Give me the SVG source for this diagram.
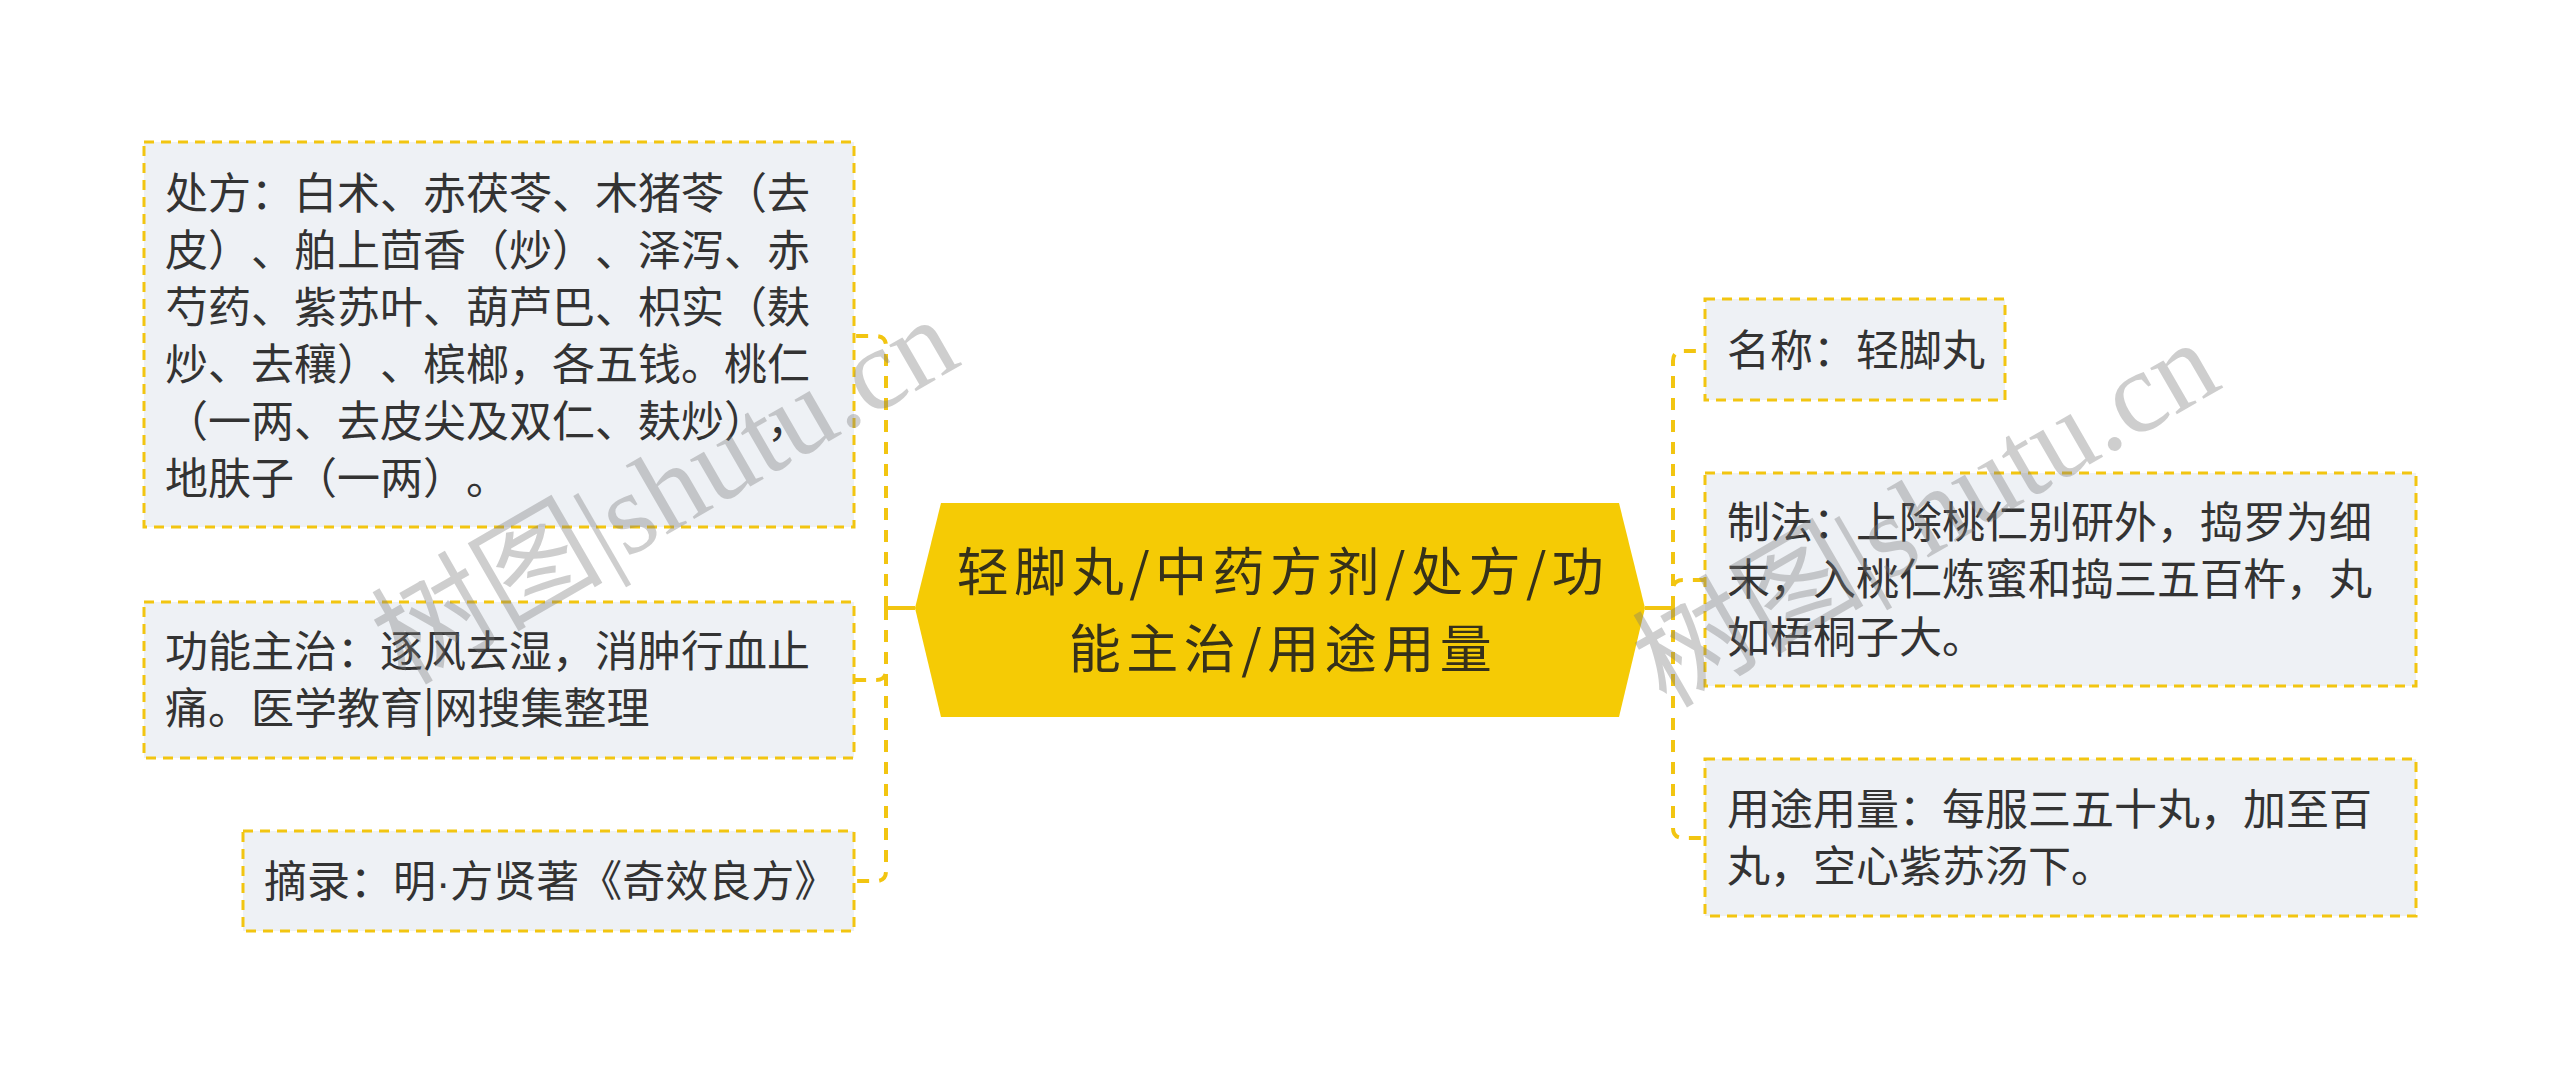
<svg xmlns="http://www.w3.org/2000/svg" width="2560" height="1075" viewBox="0 0 2560 1075">
<style>
.box{fill:#eef1f5;stroke:#f2c511;stroke-width:3;stroke-dasharray:10 7;}
.t{font-family:"Noto Sans CJK SC","Noto Sans",sans-serif;font-size:43px;fill:#333333;text-spacing-trim:space-all;font-kerning:none;}
.ct{font-family:"Noto Sans CJK SC","Noto Sans",sans-serif;font-size:52px;letter-spacing:5.5px;fill:#36311a;text-anchor:middle;text-spacing-trim:space-all;}
.nd{font-family:"Liberation Sans",sans-serif;}
.con{fill:none;stroke:#f2c511;stroke-width:4;stroke-dasharray:12 10;}
.solid{fill:none;stroke:#f2c511;stroke-width:4;}
.wm{font-family:"Liberation Serif","Noto Sans CJK SC",serif;font-size:116px;fill:#7a7a7a;opacity:0.36;}
</style>
<rect width="2560" height="1075" fill="#ffffff"/>
<g id="connectors">
<path class="solid" d="M915 608H886"/>
<path class="con" d="M886 608V346Q886 336 876 336H854"/>
<path class="con" d="M886 608V670Q886 680 876 680H854"/>
<path class="con" d="M886 608V871Q886 881 876 881H854"/>
<path class="solid" d="M1645 608H1673"/>
<path class="con" d="M1673 608V361Q1673 351 1683 351H1705"/>
<path class="con" d="M1673 608V590Q1673 580 1683 580H1705"/>
<path class="con" d="M1673 608V828Q1673 838 1683 838H1705"/>
</g>
<g id="center">
<polygon points="941,503 1619,503 1645,608 1619,717 941,717 915,608" fill="#f5cb05"/>
<text class="ct" x="1283" y="591">轻脚丸/中药方剂/处方/功</text>
<text class="ct" x="1283" y="668">能主治/用途用量</text>
</g>
<g id="node-chufang">
<rect class="box" x="144" y="142" width="710" height="385"/>
<text class="t" x="165" y="209">处方：白术、赤茯苓、木猪苓（去</text>
<text class="t" x="165" y="266">皮）、舶上茴香（炒）、泽泻、赤</text>
<text class="t" x="165" y="323">芍药、紫苏叶、葫芦巴、枳实（麸</text>
<text class="t" x="165" y="380">炒、去穰）、槟榔，各五钱。桃仁</text>
<text class="t" x="165" y="437">（一两、去皮尖及双仁、麸炒），</text>
<text class="t" x="165" y="494">地肤子（一两）。</text>
</g>
<g id="node-gongneng">
<rect class="box" x="144" y="602" width="710" height="156"/>
<text class="t" x="165" y="667">功能主治：逐风去湿，消肿行血止</text>
<text class="t" x="165" y="724">痛。医学教育|网搜集整理</text>
</g>
<g id="node-zhailu">
<rect class="box" x="243" y="831" width="611" height="100"/>
<text class="t" x="264" y="897">摘录：明<tspan class="nd">·</tspan>方贤著《奇效良方》</text>
</g>
<g id="node-mingcheng">
<rect class="box" x="1705" y="299" width="300" height="101"/>
<text class="t" x="1727" y="366">名称：轻脚丸</text>
</g>
<g id="node-zhifa">
<rect class="box" x="1705" y="473" width="711" height="213"/>
<text class="t" x="1727" y="538">制法：上除桃仁别研外，捣罗为细</text>
<text class="t" x="1727" y="595">末，入桃仁炼蜜和捣三五百杵，丸</text>
<text class="t" x="1727" y="653">如梧桐子大。</text>
</g>
<g id="node-yongtu">
<rect class="box" x="1705" y="759" width="711" height="157"/>
<text class="t" x="1727" y="825">用途用量：每服三五十丸，加至百</text>
<text class="t" x="1727" y="882">丸，空心紫苏汤下。</text>
</g>
<g id="watermark">
<text class="wm" x="405" y="686" transform="rotate(-30 405 686)">树图|shutu.cn</text>
<text class="wm" x="1666" y="709" transform="rotate(-30 1666 709)">树图|shutu.cn</text>
</g>
</svg>
